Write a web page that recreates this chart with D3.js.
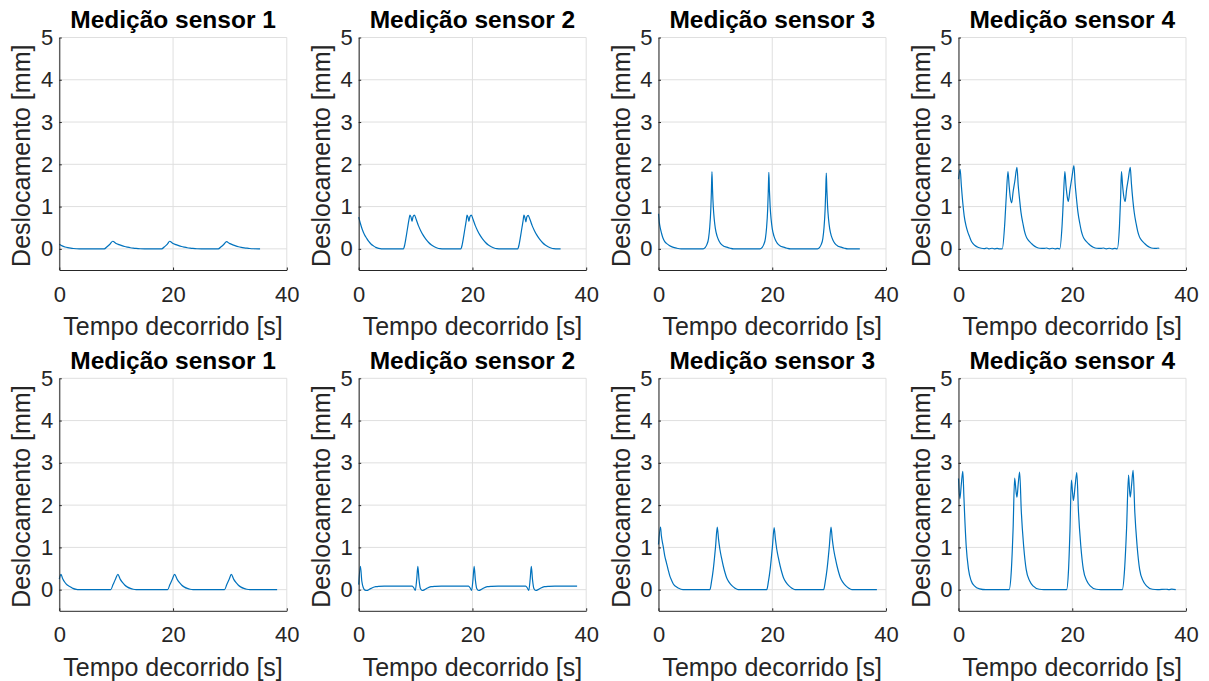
<!DOCTYPE html>
<html>
<head>
<meta charset="utf-8">
<script src="https://cdn.jsdelivr.net/npm/d3@7"></script>
<style>
  html, body { margin: 0; padding: 0; background: #fff; }
  svg { display: block; }
  text { font-family: "Liberation Sans", Arial, Helvetica, sans-serif; }
</style>
</head>
<body>
<svg id="chart" width="1209" height="681"></svg>
<script>
// ---------- DATA ----------
const titles = ["Medição sensor 1", "Medição sensor 2", "Medição sensor 3", "Medição sensor 4"];
const xLabel = "Tempo decorrido [s]";
const yLabel = "Deslocamento [mm]";
const xTicks = [0, 20, 40];
const yTicks = [0, 1, 2, 3, 4, 5];
const xDomain = [0, 40];
const yDomain = [-0.5, 5];

// top row: [time s, displacement mm]
const top1 = [[0,.11],[.5,.07],[1,.045],[1.5,.028],[2,.016],[2.5,.008],[3,.003],[3.5,0],[7.9,0],[8.4,.05],[8.9,.11],[9.4,.18],[9.9,.135],[10.5,.1],[11,.075],[11.5,.055],[12,.04],[12.5,.027],[13,.017],[13.5,.01],[14.2,.003],[15,0],
[18,0],[18.5,.05],[19,.11],[19.4,.18],[19.9,.135],[20.5,.1],[21,.075],[21.5,.055],[22,.04],[22.5,.027],[23,.017],[23.5,.01],[24.2,.003],[25,0],
[27.95,0],[28.45,.05],[28.95,.11],[29.4,.17],[29.9,.13],[30.5,.095],[31,.07],[31.5,.05],[32,.036],[32.5,.025],[33,.016],[33.5,.009],[34.2,.003],[35,0],[35.3,0]];

const top2 = [[0,.75],[.3,.6],[.6,.47],[1,.34],[1.4,.25],[1.8,.17],[2.2,.11],[2.6,.07],[3,.035],[3.5,.01],[4,0],
[7.85,0],[8.1,.1],[8.35,.29],[8.6,.5],[8.8,.66],[9.02,.8],[9.2,.75],[9.38,.65],[9.55,.76],[9.8,.8],[10.1,.7],[10.5,.55],[10.9,.43],[11.3,.33],[11.8,.23],[12.3,.15],[12.8,.09],[13.3,.05],[13.8,.02],[14.3,.005],[15,0],
[17.95,0],[18.2,.1],[18.45,.29],[18.7,.5],[18.9,.66],[19.05,.8],[19.22,.75],[19.38,.65],[19.55,.76],[19.8,.8],[20.1,.7],[20.5,.55],[20.9,.43],[21.3,.33],[21.8,.23],[22.3,.15],[22.8,.09],[23.3,.05],[23.8,.02],[24.3,.005],[25,0],
[27.95,0],[28.2,.1],[28.45,.29],[28.7,.5],[28.9,.66],[29.05,.8],[29.22,.74],[29.4,.64],[29.57,.76],[29.8,.79],[30.1,.7],[30.5,.55],[30.9,.43],[31.3,.33],[31.8,.23],[32.3,.15],[32.8,.09],[33.3,.05],[33.8,.02],[34.3,.005],[35,0],[35.5,0]];

const top3 = [[0,.83],[.15,.62],[.3,.5],[.53,.37],[.8,.25],[1.1,.17],[1.4,.13],[1.9,.08],[2.5,.04],[3.2,.015],[4,0],
[7.85,0],[8.2,.03],[8.5,.1],[8.8,.25],[9,.5],[9.2,.95],[9.3,1.35],[9.4,1.83],[9.5,1.4],[9.63,1],[9.8,.7],[10,.48],[10.3,.3],[10.6,.2],[10.9,.13],[11.4,.07],[12,.04],[12.6,.015],[13.2,0],
[17.85,0],[18.2,.03],[18.5,.1],[18.8,.25],[19,.5],[19.2,.95],[19.3,1.35],[19.4,1.81],[19.5,1.4],[19.63,1],[19.8,.7],[20,.48],[20.3,.3],[20.6,.2],[20.9,.13],[21.4,.07],[22,.04],[22.6,.015],[23.2,0],
[27.95,0],[28.3,.03],[28.6,.1],[28.9,.25],[29.1,.5],[29.3,.95],[29.4,1.35],[29.5,1.79],[29.6,1.4],[29.73,1],[29.9,.7],[30.1,.48],[30.4,.3],[30.7,.2],[31,.13],[31.5,.07],[32.1,.04],[32.7,.015],[33.3,0],[35.4,0]];

const top4 = [[0,1.65],[.29,1.88],[.5,1.5],[.76,1.08],[1,.78],[1.35,.53],[1.65,.39],[1.94,.29],[2.2,.2],[2.52,.13],[2.9,.08],[3.4,.04],[4,.015],[4.5,.005],[5,.02],[5.4,0],[5.9,.015],[6.3,0],[6.8,.01],[7.2,0],[7.7,0],
[8.1,.53],[8.4,1.24],[8.7,1.83],[8.9,1.5],[9.1,1.22],[9.35,1.09],[9.6,1.35],[9.9,1.6],[10.28,1.93],[10.5,1.5],[10.75,1.16],[11,.85],[11.33,.6],[11.6,.42],[11.9,.29],[12.3,.2],[12.8,.13],[13.2,.08],[13.7,.04],[14.3,.015],[15,.01],[15.5,.02],[16,0],[16.5,.015],[17,0],[17.4,.01],[17.8,0],
[18.2,.53],[18.45,1.2],[18.7,1.83],[18.9,1.5],[19.1,1.25],[19.3,1.12],[19.6,1.4],[19.95,1.7],[20.3,1.97],[20.5,1.55],[20.75,1.18],[21,.87],[21.33,.6],[21.6,.42],[21.9,.29],[22.3,.2],[22.8,.13],[23.2,.08],[23.7,.04],[24.3,.015],[25,.01],[25.5,.02],[26,0],[26.5,.015],[27,0],[27.5,.01],[27.9,0],
[28.3,.53],[28.5,1.2],[28.65,1.83],[28.85,1.5],[29.05,1.25],[29.3,1.12],[29.55,1.4],[29.85,1.65],[30.2,1.93],[30.4,1.55],[30.65,1.16],[30.9,.86],[31.23,.6],[31.5,.42],[31.8,.29],[32.2,.2],[32.7,.13],[33.1,.08],[33.6,.04],[34.2,.015],[34.8,.01],[35.1,.02],[35.3,.01]];

// bottom row
const bot1 = [[0,.25],[.3,.36],[.6,.26],[1,.17],[1.4,.11],[1.9,.07],[2.4,.03],[3,.005],[3.4,0],
[9.05,0],[9.45,.12],[9.85,.24],[10.3,.36],[10.7,.25],[11.1,.17],[11.5,.11],[12,.06],[12.5,.03],[13,.01],[13.5,0],
[19.05,0],[19.45,.12],[19.85,.24],[20.28,.36],[20.7,.25],[21.1,.17],[21.5,.11],[22,.06],[22.5,.03],[23,.01],[23.5,0],
[29.05,0],[29.45,.12],[29.85,.24],[30.25,.36],[30.65,.25],[31.05,.17],[31.45,.11],[31.95,.06],[32.45,.03],[32.95,.01],[33.5,0],[38.3,0]];

const bot2 = [[0,.12],[.3,.55],[.55,.2],[.8,.05],[1.1,-.01],[1.45,-.02],[1.9,.01],[2.5,.05],[3,.07],[3.5,.08],[4.5,.085],
[9.4,.085],[9.7,.04],[9.95,-.02],[10.2,.25],[10.4,.55],[10.6,.25],[10.85,.03],[11.2,-.02],[11.6,0],[12.1,.04],[12.7,.07],[13.5,.08],[14.5,.085],
[19.3,.085],[19.6,.04],[19.85,-.02],[20.1,.25],[20.3,.55],[20.5,.25],[20.75,.03],[21.1,-.02],[21.5,0],[22,.04],[22.6,.07],[23.4,.08],[24.5,.085],
[29.35,.085],[29.65,.04],[29.9,-.02],[30.15,.25],[30.35,.55],[30.55,.25],[30.8,.03],[31.15,-.02],[31.55,0],[32.05,.04],[32.65,.07],[33.45,.08],[34.5,.085],[38.4,.085]];

const bot3 = [[0,1.07],[.35,1.48],[.5,1.28],[.82,1.03],[1.1,.8],[1.41,.63],[1.7,.47],[2,.32],[2.3,.22],[2.58,.14],[3,.08],[3.46,.04],[4.3,0],
[9.04,0],[9.3,.17],[9.63,.48],[10.04,1.03],[10.33,1.48],[10.55,1.2],[10.8,.95],[11.1,.74],[11.39,.56],[11.7,.4],[11.98,.28],[12.4,.18],[12.86,.1],[13.4,.04],[14,0],
[19.04,0],[19.3,.17],[19.63,.48],[20.04,1.03],[20.33,1.47],[20.55,1.2],[20.8,.95],[21.1,.74],[21.39,.56],[21.7,.4],[21.98,.28],[22.4,.18],[22.86,.1],[23.4,.04],[24,0],
[29.04,0],[29.3,.17],[29.63,.48],[30.04,1.03],[30.33,1.48],[30.55,1.2],[30.8,.95],[31.1,.74],[31.39,.56],[31.7,.4],[31.98,.28],[32.4,.18],[32.86,.1],[33.4,.04],[34,0],[38.4,0]];

const bot4 = [[0,2.63],[.24,2.15],[.5,2.5],[.76,2.8],[.95,2.2],[1.06,1.83],[1.35,1.04],[1.76,.48],[2.23,.21],[2.8,.09],[3.7,.02],[4.8,0],
[8.9,0],[9.3,.48],[9.6,1.44],[9.87,2.64],[10.1,2.35],[10.28,2.19],[10.5,2.5],[10.75,2.78],[11.05,1.83],[11.45,1.04],[11.9,.48],[12.5,.21],[13.1,.09],[14.2,.01],[15,0],
[19,0],[19.35,.48],[19.6,1.4],[19.85,2.59],[20.05,2.3],[20.2,2.11],[20.5,2.45],[20.8,2.77],[21.1,1.83],[21.5,1.04],[21.95,.48],[22.55,.21],[23.15,.09],[24.2,.01],[25,0],
[28.8,0],[29.2,.48],[29.55,1.44],[29.9,2.71],[30.05,2.4],[30.2,2.19],[30.45,2.5],[30.7,2.82],[31,1.83],[31.4,1.04],[31.85,.48],[32.45,.21],[33.05,.09],[34.1,.01],[35,0],[36.5,.01],[37,0],[37.5,.015],[38.2,0]];

const rows = [[top1, top2, top3, top4], [bot1, bot2, bot3, bot4]];

// ---------- LAYOUT ----------
const colLeft = [59.3, 358.7, 658.5, 958.5];
const plotW = 227.5;
const rowTop = [37.5, 378.3];
const plotH = 232.5;
const axisColor = "#262626";
const gridColor = "#dfdfdf";
const lineColor = "#0072BD";

const svg = d3.select("#chart");
svg.append("rect").attr("width", 1209).attr("height", 681).attr("fill", "#fff");

rows.forEach((row, ri) => {
  row.forEach((series, ci) => {
    const x0 = colLeft[ci], y0 = rowTop[ri];
    const x = d3.scaleLinear().domain(xDomain).range([0, plotW]);
    const y = d3.scaleLinear().domain(yDomain).range([plotH, 0]);
    const g = svg.append("g").attr("transform", `translate(${x0},${y0})`);

    // grid
    g.append("g").selectAll("line").data(yTicks).join("line")
      .attr("x1", 0).attr("x2", plotW)
      .attr("y1", d => y(d)).attr("y2", d => y(d))
      .attr("stroke", gridColor).attr("stroke-width", 1);
    g.append("g").selectAll("line").data(xTicks).join("line")
      .attr("y1", 0).attr("y2", plotH)
      .attr("x1", d => x(d)).attr("x2", d => x(d))
      .attr("stroke", gridColor).attr("stroke-width", 1);

    // line
    const line = d3.line().x(d => x(d[0])).y(d => y(d[1])).curve(d3.curveMonotoneX);
    g.append("path").datum(series)
      .attr("d", line).attr("fill", "none")
      .attr("stroke", lineColor).attr("stroke-width", 1.2)
      .attr("stroke-linejoin", "round");

    // axes
    const xAxis = d3.axisBottom(x).tickValues(xTicks).tickSizeInner(-2.5).tickSizeOuter(0).tickPadding(16)
      .tickFormat(d3.format("d"));
    const gx = g.append("g").attr("transform", `translate(0,${plotH})`).call(xAxis);
    gx.select(".domain").attr("stroke", axisColor).attr("stroke-width", 1);
    gx.selectAll(".tick line").attr("stroke", axisColor);
    gx.selectAll(".tick text").attr("fill", axisColor).attr("font-size", "22px")
      .attr("font-family", "'Liberation Sans', Arial, sans-serif");

    const yAxis = d3.axisLeft(y).tickValues(yTicks).tickSizeInner(-2.5).tickSizeOuter(0).tickPadding(6)
      .tickFormat(d3.format("d"));
    const gy = g.append("g").call(yAxis);
    gy.select(".domain").attr("stroke", axisColor).attr("stroke-width", 1);
    gy.selectAll(".tick line").attr("stroke", axisColor);
    gy.selectAll(".tick text").attr("fill", axisColor).attr("font-size", "22px")
      .attr("font-family", "'Liberation Sans', Arial, sans-serif");

    // title
    g.append("text").attr("x", plotW / 2).attr("y", -9.5)
      .attr("text-anchor", "middle").attr("font-weight", "bold")
      .attr("font-size", "24.5px").attr("fill", "#000").text(titles[ci]);

    // x label
    g.append("text").attr("x", plotW / 2).attr("y", plotH + 65)
      .attr("text-anchor", "middle").attr("font-size", "25px")
      .attr("fill", axisColor).text(xLabel);

    // y label
    g.append("text")
      .attr("transform", `translate(-29,${plotH / 2 + 2}) rotate(-90)`)
      .attr("text-anchor", "middle").attr("font-size", "25px")
      .attr("fill", axisColor).text(yLabel);
  });
});
</script>
</body>
</html>
